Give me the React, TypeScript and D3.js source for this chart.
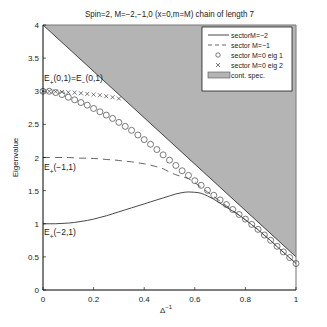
import * as d3 from "d3";

const xs = d3.range(0, 41).map(i => i * 0.025);

// sector M=-2 (solid)
const solidM2 = [1.0, 1.0, 1.0, 1.005, 1.01, 1.02, 1.035, 1.05, 1.07, 1.095, 1.12, 1.15, 1.18, 1.21, 1.24, 1.27, 1.3, 1.33, 1.36, 1.39, 1.42, 1.45, 1.47, 1.48, 1.475, 1.46, 1.42, 1.37, 1.31, 1.25, 1.19, 1.13, 1.06, 0.985, 0.91, 0.825, 0.745, 0.655, 0.57, 0.485, 0.4];
// sector M=-1 (dashed)
const dashedM1 = [2.0, 2.0, 2.0, 2.0, 2.0, 1.995, 1.99, 1.99, 1.985, 1.98, 1.97, 1.965, 1.955, 1.945, 1.935, 1.92, 1.905, 1.885, 1.86, 1.83, 1.78, 1.74, 1.71, 1.68, 1.62, 1.55, 1.48, 1.41, 1.34, 1.27, 1.2, 1.13, 1.06, 0.985, 0.91, 0.825, 0.745, 0.655, 0.57, 0.485, 0.4];
// sector M=0 eig 1 (circles)
const eig1 = [3.0, 3.0, 2.98, 2.95, 2.91, 2.87, 2.83, 2.79, 2.74, 2.69, 2.64, 2.59, 2.53, 2.47, 2.41, 2.34, 2.27, 2.2, 2.12, 2.04, 1.96, 1.88, 1.8, 1.73, 1.65, 1.58, 1.505, 1.43, 1.36, 1.29, 1.215, 1.14, 1.07, 0.99, 0.915, 0.83, 0.75, 0.66, 0.575, 0.49, 0.4];
// sector M=0 eig 2 (crosses), visible below the continuum only
const eig2 = [3.0, 3.0, 2.995, 2.99, 2.985, 2.98, 2.97, 2.96, 2.95, 2.94, 2.925, 2.91, 2.89];

// continuum boundary
const contX = [0, 1, 1];
const contY = [4, 4, 0.5];

const xTicks = [0, 0.2, 0.4, 0.6, 0.8, 1];
const xTickLabels = ["0", "0.2", "0.4", "0.6", "0.8", "1"];
const yTicks = [0, 0.5, 1, 1.5, 2, 2.5, 3, 3.5, 4];
const yTickLabels = ["0", "0.5", "1", "1.5", "2", "2.5", "3", "3.5", "4"];

const legendLabels = ["sectorM=\u22122", "sector M=\u22121", "sector M=0 eig 1", "sector M=0 eig 2", "cont. spec."];

export default function App() {
  const width = 327, height = 327;
  const left = 43, right = 296, top = 25, bottom = 290;
  const font = "'Liberation Sans', Arial, sans-serif";

  const x = d3.scaleLinear().domain([0, 1]).range([left, right]);
  const y = d3.scaleLinear().domain([0, 4]).range([bottom, top]);

  const line = d3.line<number>().x((_, i) => x(xs[i])).y(d => y(d)).curve(d3.curveMonotoneX);

  const contPts = contX.map((v, i) => [x(v), y(contY[i])]);
  const contPath = "M" + contPts.map(p => p.join(",")).join("L") + "Z";

  const lx = 202, ly = 27, lw = 90, lh = 64;
  const rowY = (i: number) => ly + 8 + i * 10;

  return (
    <svg width={width} height={height} style={{ position: "absolute", left: 0, top: 0, background: "#fff" }} fontFamily={font}>
      {/* title */}
      <text x={(left + right) / 2} y={17} fontSize={8.5} textAnchor="middle" fill="#222" textLength={169} lengthAdjust="spacingAndGlyphs">
        Spin=2, M=−2,−1,0 (x=0,m=M)  chain of length 7
      </text>

      {/* continuum */}
      <path d={contPath} fill="#b4b4b4" stroke="none" />
      <line x1={x(0)} y1={y(4)} x2={x(1)} y2={y(0.5)} stroke="#222" strokeWidth={0.8} />
      <line x1={x(0)} y1={y(4)} x2={x(1)} y2={y(4)} stroke="#777" strokeWidth={1} />
      <line x1={x(1)} y1={y(4)} x2={x(1)} y2={y(0)} stroke="#888" strokeWidth={1.2} />

      {/* curves */}
      <path d={line(solidM2) || ""} fill="none" stroke="#333" strokeWidth={0.9} />
      <path d={line(dashedM1) || ""} fill="none" stroke="#555" strokeWidth={0.9} strokeDasharray="7,5" />
      {eig1.map((v, i) => (
        <circle key={"c" + i} cx={x(xs[i])} cy={y(v)} r={3} fill="none" stroke="#444" strokeWidth={0.7} />
      ))}
      {eig2.map((v, i) => (
        <path key={"x" + i} d={`M${x(xs[i]) - 2},${y(v) - 2}l4,4M${x(xs[i]) - 2},${y(v) + 2}l4,-4`} stroke="#444" strokeWidth={0.7} />
      ))}

      {/* axes */}
      <line x1={left} y1={top} x2={left} y2={bottom} stroke="#000" strokeWidth={1} />
      <line x1={left} y1={bottom} x2={right} y2={bottom} stroke="#000" strokeWidth={1} />
      {xTicks.map((t, i) => (
        <g key={"xt" + i}>
          <line x1={x(t)} y1={bottom} x2={x(t)} y2={bottom - 3} stroke="#000" strokeWidth={0.6} />
          <text x={x(t)} y={bottom + 12} fontSize={8} textAnchor="middle" fill="#222">{xTickLabels[i]}</text>
        </g>
      ))}
      {yTicks.map((t, i) => (
        <g key={"yt" + i}>
          <line x1={left} y1={y(t)} x2={left + 3} y2={y(t)} stroke="#000" strokeWidth={0.6} />
          <text x={left - 4} y={y(t) + 3} fontSize={8} textAnchor="end" fill="#222">{yTickLabels[i]}</text>
        </g>
      ))}

      {/* axis labels */}
      <text x={166} y={313} fontSize={8} textAnchor="middle" fill="#222">
        Δ<tspan dy={-4} fontSize={6}>−1</tspan>
      </text>
      <text transform={`translate(18,${(top + bottom) / 2}) rotate(-90)`} fontSize={8} textAnchor="middle" fill="#222">Eigenvalue</text>

      {/* annotations */}
      <text x={44} y={81} fontSize={8.5} fill="#222">
        E<tspan dy={4} fontSize={6.5}>+</tspan><tspan dy={-4}>(0,1)=E</tspan><tspan dy={4} fontSize={6.5}>−</tspan><tspan dy={-4}>(0,1)</tspan>
      </text>
      <text x={44} y={170} fontSize={8.5} fill="#222">
        E<tspan dy={4} fontSize={6.5}>+</tspan><tspan dy={-4}>(−1,1)</tspan>
      </text>
      <text x={44} y={235} fontSize={8.5} fill="#222">
        E<tspan dy={4} fontSize={6.5}>+</tspan><tspan dy={-4}>(−2,1)</tspan>
      </text>

      {/* legend */}
      <rect x={lx} y={ly} width={lw} height={lh} fill="#fff" stroke="#000" strokeWidth={0.7} />
      <line x1={208} y1={rowY(0)} x2={229} y2={rowY(0)} stroke="#333" strokeWidth={0.9} />
      <line x1={208} y1={rowY(1)} x2={229} y2={rowY(1)} stroke="#555" strokeWidth={0.9} strokeDasharray="4,3" />
      <circle cx={218} cy={rowY(2)} r={2.2} fill="none" stroke="#444" strokeWidth={0.7} />
      <path d={`M216,${rowY(3) - 2}l4,4M216,${rowY(3) + 2}l4,-4`} stroke="#444" strokeWidth={0.7} />
      <rect x={208} y={rowY(4) - 3} width={22} height={6} fill="#b4b4b4" stroke="#555" strokeWidth={0.6} />
      {legendLabels.map((s, i) => (
        <text key={"l" + i} x={231} y={rowY(i) + 3} fontSize={7} fill="#222">{s}</text>
      ))}
    </svg>
  );
}
